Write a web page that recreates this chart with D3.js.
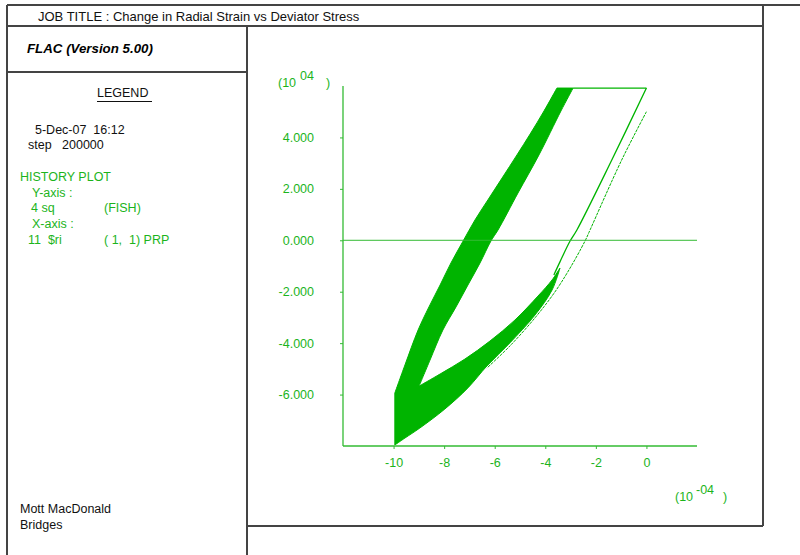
<!DOCTYPE html>
<html>
<head>
<meta charset="utf-8">
<script src="https://cdn.jsdelivr.net/npm/d3@7"></script>
<style>
  html, body { margin: 0; padding: 0; background: #fff; }
  svg { display: block; font-family: "Liberation Sans", Arial, sans-serif; }
  svg text { white-space: pre; }
</style>
</head>
<body>
<svg id="chart" width="800" height="555"></svg>
<script>
// Radial strain ($ri, x 1e-4) against deviator stress (sq, x 1e4) history.
// Envelope of the densely oscillating cyclic-loading band, as four smooth edges.
const bandLeftEdge = [
  [-9.95, -5.94], [-9.55, -4.85], [-9.03, -3.49], [-8.60, -2.59], [-8.16, -1.74],
  [-7.73, -0.88], [-7.25, -0.03], [-6.78, 0.79], [-6.27, 1.57], [-5.71, 2.42],
  [-5.12, 3.32], [-4.60, 4.13], [-4.05, 5.03], [-3.54, 5.92]
];
const bandRightEdge = [
  [-2.90, 5.92], [-3.38, 5.03], [-4.25, 3.32], [-5.08, 1.84], [-5.87, 0.40],
  [-6.15, -0.03], [-6.58, -0.88], [-7.06, -1.74], [-7.53, -2.59], [-8.05, -3.49],
  [-8.56, -4.66], [-8.99, -5.67]
];
const bandInnerEdge = [
  [-8.99, -5.67], [-8.16, -5.20], [-7.18, -4.62], [-6.19, -3.92], [-5.20, -3.10],
  [-4.29, -2.17], [-3.73, -1.54], [-3.42, -1.08]
];
const bandLowerEdge = [
  [-3.42, -1.08], [-3.73, -1.93], [-4.41, -2.91], [-5.40, -3.99], [-6.31, -4.89],
  [-7.06, -5.74], [-7.97, -6.56], [-8.96, -7.30], [-9.55, -7.69], [-9.95, -7.96]
];
// Final load / unload branches.
const pathA = [[0.0, 5.92], [-1.37, 3.12], [-2.75, 0.40], [-3.02, -0.03], [-3.42, -0.84], [-3.66, -1.35]];
const pathB = [[0.0, 5.0], [-0.98, 3.12], [-2.23, 0.40], [-2.43, -0.03], [-3.02, -1.08], [-3.62, -2.01],
               [-4.41, -3.02], [-5.40, -4.11], [-6.31, -4.97]];
// Stress cap reached on each cycle.
const capLine = [[-2.90, 5.92], [0.0, 5.92]];

const xTicks = [-10, -8, -6, -4, -2, 0];
const yTicks = [-6, -4, -2, 0, 2, 4];
const xDomain = [-12, 2];
const yDomain = [-8, 6];

const legendBlack = [["5-Dec-07  16:12", 35, 134], ["step   200000", 28, 149]];
const legendGreen = [
  ["HISTORY PLOT", 20, 181], ["Y-axis :", 32, 197], ["4 sq", 31, 212], ["(FISH)", 104, 212],
  ["X-axis :", 32, 228], ["11  $ri", 28, 244], ["( 1,  1) PRP", 104, 244]
];

const GREEN = "#00b400";
const TEXT_GREEN = "#1cb41c";
const AXIS_GREEN = "#33bb33";
const svg = d3.select("#chart");

// Page frame
const frame = svg.append("g").attr("stroke", "#444").attr("stroke-width", 2).attr("fill", "none");
[[7, 5, 800, 5], [7, 5, 7, 555], [7, 26, 763, 26], [763, 5, 763, 526],
 [247, 26, 247, 555], [247, 526, 763, 526], [7, 72, 247, 72]].forEach(s =>
  frame.append("line").attr("x1", s[0]).attr("y1", s[1]).attr("x2", s[2]).attr("y2", s[3]));

svg.append("text").attr("x", 38).attr("y", 21).attr("font-size", 13).attr("fill", "#111")
  .text("JOB TITLE : Change in Radial Strain vs Deviator Stress");
svg.append("text").attr("x", 27).attr("y", 53).attr("font-size", 13.3).attr("font-weight", "bold")
  .attr("font-style", "italic").attr("fill", "#000").text("FLAC (Version 5.00)");
svg.append("text").attr("x", 97).attr("y", 97).attr("font-size", 12.5).attr("fill", "#111").text("LEGEND");
svg.append("line").attr("x1", 97).attr("x2", 152).attr("y1", 101.5).attr("y2", 101.5)
  .attr("stroke", "#111").attr("stroke-width", 1);

svg.selectAll("text.lb").data(legendBlack).join("text").attr("class", "lb")
  .attr("x", d => d[1]).attr("y", d => d[2]).attr("font-size", 12.5).attr("fill", "#111").text(d => d[0]);
svg.selectAll("text.lg").data(legendGreen).join("text").attr("class", "lg")
  .attr("x", d => d[1]).attr("y", d => d[2]).attr("font-size", 12.5).attr("fill", TEXT_GREEN).text(d => d[0]);
svg.append("text").attr("x", 20).attr("y", 513).attr("font-size", 12.5).attr("fill", "#111").text("Mott MacDonald");
svg.append("text").attr("x", 20).attr("y", 529).attr("font-size", 12.5).attr("fill", "#111").text("Bridges");

// Plot area
const x = d3.scaleLinear().domain(xDomain).range([343, 697]);
const y = d3.scaleLinear().domain(yDomain).range([446, 86]);
const line = d3.line().x(d => x(d[0])).y(d => y(d[1]));
const smooth = d3.line().x(d => x(d[0])).y(d => y(d[1])).curve(d3.curveCatmullRom.alpha(0.5));

// Join the smooth edges into one closed outline (straight joins at the corners).
const bandPath = [bandLeftEdge, bandRightEdge, bandInnerEdge, bandLowerEdge]
  .map((edge, i) => { const d = smooth(edge); return i === 0 ? d : "L" + d.slice(1); })
  .join("") + "Z";

const plot = svg.append("g");
plot.append("path").attr("d", bandPath)
  .attr("fill", GREEN).attr("stroke", GREEN).attr("stroke-width", 1).attr("stroke-linejoin", "round");
plot.append("path").attr("d", smooth(pathA)).attr("fill", "none").attr("stroke", GREEN).attr("stroke-width", 1.3);
plot.append("path").attr("d", smooth(pathB)).attr("fill", "none").attr("stroke", GREEN).attr("stroke-width", 1)
  .attr("stroke-dasharray", "3,1");
plot.append("path").attr("d", line(capLine)).attr("fill", "none").attr("stroke", GREEN).attr("stroke-width", 1.2);

// Zero line
plot.append("line").attr("x1", x(xDomain[0])).attr("x2", x(xDomain[1])).attr("y1", y(0)).attr("y2", y(0))
  .attr("stroke", AXIS_GREEN).attr("stroke-width", 1);

// Axes
const yAxis = d3.axisLeft(y).tickValues(yTicks).tickSize(3).tickPadding(26).tickFormat(d => d.toFixed(3));
const xAxis = d3.axisBottom(x).tickValues(xTicks).tickSize(3).tickPadding(9.5).tickFormat(d => String(d));
const gy = svg.append("g").attr("transform", "translate(343,0)").call(yAxis);
const gx = svg.append("g").attr("transform", "translate(0,446)").call(xAxis);
[gx, gy].forEach(g => {
  g.select(".domain").attr("stroke", AXIS_GREEN).attr("stroke-width", 1.3);
  g.selectAll(".tick line").attr("stroke", AXIS_GREEN);
  g.selectAll(".tick text").attr("fill", TEXT_GREEN).attr("font-size", 12.5)
    .attr("font-family", "Liberation Sans, Arial, sans-serif");
});
gx.select(".domain").attr("d", `M${x(xDomain[0])},0H${x(xDomain[1])}`);
gy.select(".domain").attr("d", `M0,${y(yDomain[1])}V${y(yDomain[0])}`);

// Exponent labels
function expLabel(px, py, exp, ex, ey, cx) {
  const g = svg.append("g").attr("fill", TEXT_GREEN).attr("font-size", 12.5);
  g.append("text").attr("x", px).attr("y", py).text("(10");
  g.append("text").attr("x", ex).attr("y", ey).text(exp);
  g.append("text").attr("x", cx).attr("y", py).text(")");
}
expLabel(278, 87, "04", 300, 80, 326);
expLabel(675, 501, "-04", 696, 494, 723);
</script>
</body>
</html>
